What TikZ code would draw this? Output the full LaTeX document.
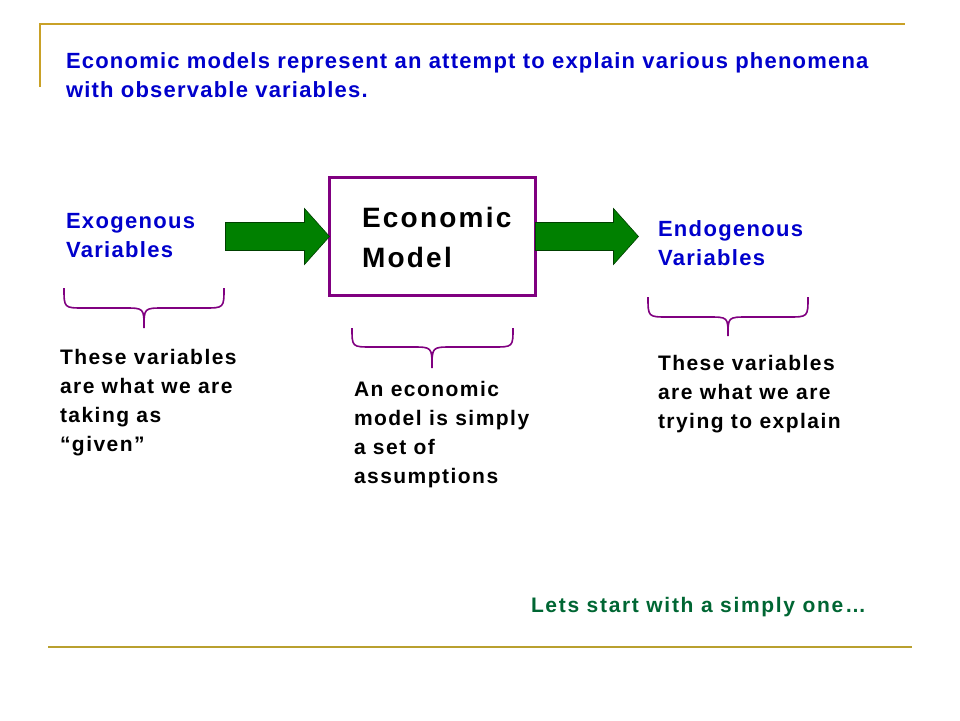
\documentclass[tikz,border=0pt]{standalone}
\usepackage{fontspec}
\setmainfont{Liberation Sans}[LetterSpace=7]
\usetikzlibrary{calc}
\definecolor{slidegold}{RGB}{201,161,39}
\definecolor{slideolive}{RGB}{185,160,47}
\definecolor{modelpurple}{RGB}{128,0,128}
\definecolor{arrowgreen}{RGB}{0,128,0}
\definecolor{notegreen}{RGB}{0,102,51}
\definecolor{titleblue}{RGB}{0,0,204}
\begin{document}
\begin{tikzpicture}[
						x=1pt, y=-1pt,
						every node/.style={inner sep=0pt, outer sep=0pt, align=left, anchor=base west},
						title/.style={text=titleblue, font=\bfseries\fontsize{22}{29}\selectfont\addfontfeature{LetterSpace=5.5}},
						varlabel/.style={text=titleblue, font=\bfseries\fontsize{22}{29}\selectfont\addfontfeature{LetterSpace=6}},
						note/.style={text=black, font=\bfseries\fontsize{21}{29}\selectfont},
						startnote/.style={text=notegreen, font=\bfseries\fontsize{21}{29}\selectfont\addfontfeature{LetterSpace=8}},
						modelbox/.style={draw=modelpurple, line width=3pt, minimum width=206pt, minimum height=118pt, anchor=center},
						modeltext/.style={font=\bfseries\fontsize{28}{40}\selectfont\addfontfeature{LetterSpace=8}},
						brace/.style={draw=modelpurple, line width=1.6pt},
						fatarrow/.style={fill=arrowgreen, draw=arrowgreen!50!black, line width=0.6pt}
					]
					\useasboundingbox (0,0) rectangle (960,720);
					% frame lines of the slide
					\draw[slidegold, line width=2pt] (40,87) -- (40,24) -- (905,24);
					\draw[slideolive, line width=2.2pt] (48,647) -- (912,647);
					% last baselines are given, the lines are 29pt apart
					\node[title] (title) at (66,97) {Economic models represent an attempt to explain various phenomena\\with observable variables.};
					% the model and its inputs and outputs
					\node[modelbox] (model) at (432.5,236.5) {};
					\node[modeltext] (modelname) at (362,267) {Economic\\Model};
					\node[varlabel] (exo) at (66,257) {Exogenous\\Variables};
					\node[varlabel] (endo) at (658,265) {Endogenous\\Variables};
					\fill[fatarrow, shift={(model.west)}] (-104,-14) -- (-25,-14) -- (-25,-28) -- (0,0) -- (-25,28) -- (-25,14) -- (-104,14) -- cycle;
					\fill[fatarrow, shift={(model.east)}] (0,-14) -- (78,-14) -- (78,-28) -- (103,0) -- (78,28) -- (78,14) -- (0,14) -- cycle;
					% braces
					\draw[brace] (64,288) .. controls (64,308) .. (84,308) -- (124,308) .. controls (144,308) .. (144,328) .. controls (144,308) .. (164,308) -- (204,308) .. controls (224,308) .. (224,288);
					\draw[brace] (352,328) .. controls (352,347) .. (372,347) -- (412,347) .. controls (432,347) .. (432,368) .. controls (432,347) .. (452,347) -- (493,347) .. controls (513,347) .. (513,328);
					\draw[brace] (648,297) .. controls (648,317) .. (668,317) -- (708,317) .. controls (728,317) .. (728,336) .. controls (728,317) .. (748,317) -- (788,317) .. controls (808,317) .. (808,297);
					\node[note] (given) at (60,451) {These variables\\are what we are\\taking as\\``given''};
					\node[note] (assume) at (354,483) {An economic\\model is simply\\a set of\\assumptions};
					\node[note] (explain) at (658,428) {These variables\\are what we are\\trying to explain};
					\node[startnote] (start) at (531,612) {Lets start with a simply one…};
				\end{tikzpicture}
\end{document}
